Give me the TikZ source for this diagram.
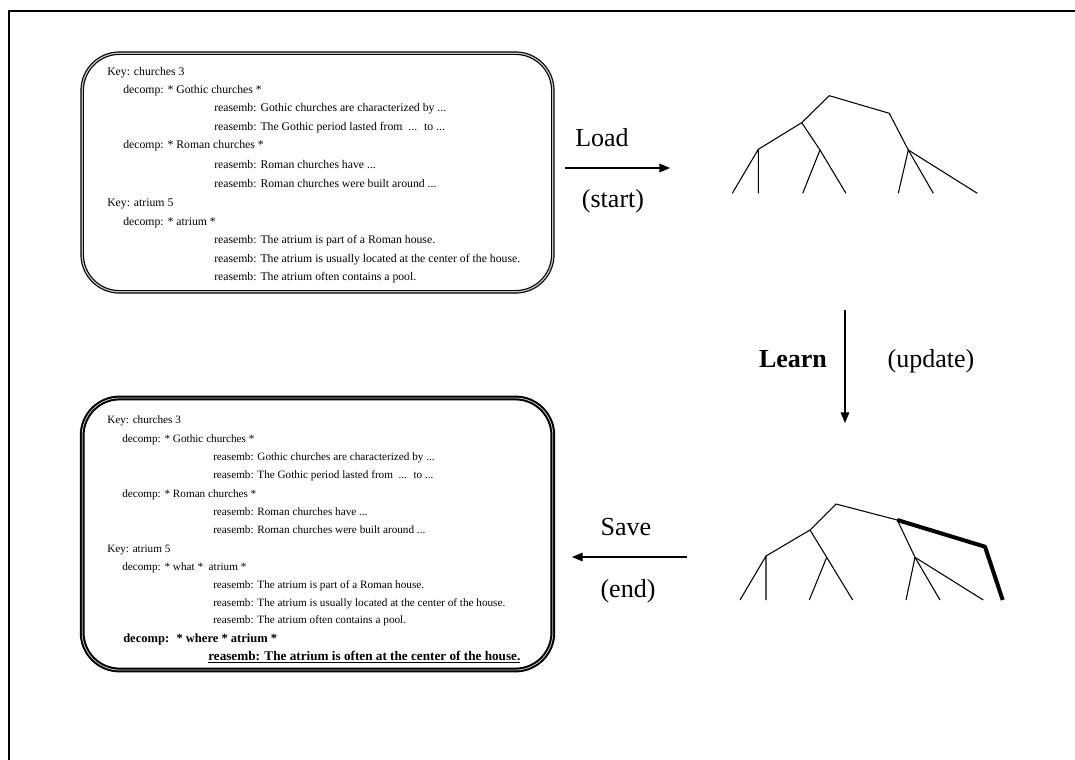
\documentclass[tikz,border=0pt]{standalone}
\usepackage{fontspec}
\setmainfont{Liberation Serif}
\usetikzlibrary{arrows.meta}
\begin{document}
\begin{tikzpicture}[x=0.75pt,y=-0.75pt,
  txt/.style={anchor=base west,inner sep=0pt,font=\fontsize{8.8}{10}\selectfont},
  txtb/.style={anchor=base west,inner sep=0pt,font=\fontsize{8.4}{10}\selectfont},
  bigtxt/.style={anchor=base west,inner sep=0pt,font=\fontsize{9.4}{11}\selectfont\bfseries},
  lbl/.style={anchor=base,inner sep=0pt,font=\fontsize{19.5}{22}\selectfont},
  rulebox/.style={draw=black,line width=0.9pt,double=gray!45,double distance=0.9pt,
    rounded corners=28pt,minimum width=353pt,inner sep=0pt},
  flow/.style={line width=0.8pt,-{Triangle[length=8pt,width=6.5pt]}},
  branch/.style={line width=0.8pt,line join=round},
  learned/.style={line width=3pt,line join=round}]
\useasboundingbox (0,0) rectangle (1075,760);
\fill[white] (0,0) rectangle (1075,760);
% outer frame
\draw[line width=1.5pt] (9,762) -- (9,11) -- (1077,11);

% rule boxes
\node[rulebox,minimum height=179pt] (before) at (317.5,172.5) {};
\node[rulebox,minimum height=204pt,line width=1.5pt,double distance=0.6pt] (after) at (317.5,534) {};

% initial script
\node[txt] (b1) at (107,75) {Key: churches 3};
\node[txt] (b2) at (123,93) {decomp: * Gothic churches *};
\node[txt] (b3) at (214,111) {reasemb: Gothic churches are characterized by ...};
\node[txt] (b4) at (214,130) {reasemb: The Gothic period lasted from \ ... \ to ...};
\node[txt] (b5) at (123,148) {decomp: * Roman churches *};
\node[txt] (b6) at (214,168) {reasemb: Roman churches have ...};
\node[txt] (b7) at (214,187) {reasemb: Roman churches were built around ...};
\node[txt] (b8) at (107,206) {Key: atrium 5};
\node[txt] (b9) at (123,225) {decomp: * atrium *};
\node[txt] (b10) at (214,243) {reasemb: The atrium is part of a Roman house.};
\node[txt] (b11) at (214,262) {reasemb: The atrium is usually located at the center of the house.};
\node[txt] (b12) at (214,280) {reasemb: The atrium often contains a pool.};

% updated script
\node[txtb] (a1) at (107,423) {Key: churches 3};
\node[txtb] (a2) at (122,442) {decomp: * Gothic churches *};
\node[txtb] (a3) at (213,460) {reasemb: Gothic churches are characterized by ...};
\node[txtb] (a4) at (213,478) {reasemb: The Gothic period lasted from \ ... \ to ...};
\node[txtb] (a5) at (122,497) {decomp: * Roman churches *};
\node[txtb] (a6) at (213,515) {reasemb: Roman churches have ...};
\node[txtb] (a7) at (213,533) {reasemb: Roman churches were built around ...};
\node[txtb] (a8) at (107,552) {Key: atrium 5};
\node[txtb] (a9) at (122,570) {decomp: * what * \ atrium *};
\node[txtb] (a10) at (213,588) {reasemb: The atrium is part of a Roman house.};
\node[txtb] (a11) at (213,606) {reasemb: The atrium is usually located at the center of the house.};
\node[txtb] (a12) at (213,623) {reasemb: The atrium often contains a pool.};
\node[bigtxt] (a13) at (123,642) {decomp: \ * where * atrium *};
\node[bigtxt,font=\fontsize{9.9}{11}\selectfont\bfseries] (a14) at (208,660) {\underline{reasemb: The atrium is often at the center of the house.}};

% Load
\coordinate (loadS) at (565,168);
\coordinate (loadE) at (670,168);
\draw[flow] (loadS) -- (loadE);
\node[lbl] (load) at (602,146) {Load};
\node[lbl] (start) at (613,207) {(start)};

% Learn
\coordinate (learnS) at (845,310);
\coordinate (learnE) at (845,423);
\draw[flow] (learnS) -- (learnE);
\node[lbl,font=\fontsize{19.5}{22}\selectfont\bfseries] (learn) at (793,367) {Learn};
\node[lbl] (update) at (931,367) {(update)};

% Save
\coordinate (saveS) at (687,557);
\coordinate (saveE) at (572,557);
\draw[flow] (saveS) -- (saveE);
\node[lbl] (save) at (626,535) {Save};
\node[lbl] (end) at (628,597) {(end)};

% tree before learning
\coordinate (r1) at (829.3,95.7);
\coordinate (rr1) at (889.3,113.3);
\coordinate (ra1) at (801.7,122.7);
\coordinate (rb1) at (758.3,149.3);
\coordinate (rc1) at (820,150);
\coordinate (rd1) at (908.3,150);
\draw[branch] (rb1) -- (ra1) -- (r1) -- (rr1) -- (rd1);
\draw[branch] (732.3,193.3) -- (rb1) -- (758.3,193.3);
\draw[branch] (ra1) -- (rc1) -- (846,193.3);
\draw[branch] (rc1) -- (802.7,193.3);
\draw[branch] (rd1) -- (898.3,193.3);
\draw[branch] (rd1) -- (933.3,193.3);
\draw[branch] (rd1) -- (977.3,193.3);

% tree after learning
\coordinate (r2) at (836,504);
\coordinate (rr2) at (897.3,520);
\coordinate (ra2) at (810,530);
\coordinate (rb2) at (766,556);
\coordinate (rc2) at (826.7,557.3);
\coordinate (rd2) at (915,557.3);
\coordinate (re2) at (985,546.7);
\draw[branch] (rb2) -- (ra2) -- (r2) -- (rr2) -- (rd2);
\draw[branch] (740,600) -- (rb2) -- (766,600);
\draw[branch] (ra2) -- (rc2) -- (852.7,600);
\draw[branch] (rc2) -- (809.3,600);
\draw[branch] (rd2) -- (906,600);
\draw[branch] (rd2) -- (940,600);
\draw[branch] (rd2) -- (983.3,600);
\draw[learned] (rr2) -- (re2) -- (1002.7,600);
\end{tikzpicture}
\end{document}
